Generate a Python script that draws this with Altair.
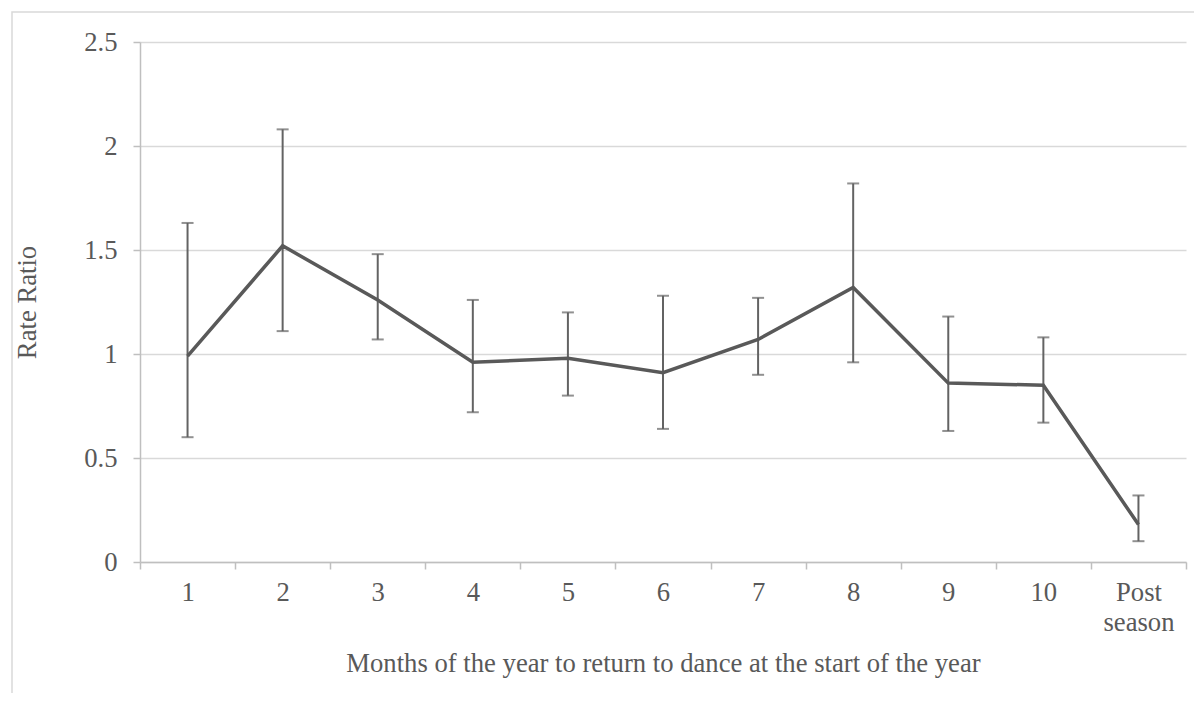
import altair as alt
import pandas as pd

categories = ["1", "2", "3", "4", "5", "6", "7", "8", "9", "10", "Post season"]
rate_ratio = [0.99, 1.52, 1.26, 0.96, 0.98, 0.91, 1.07, 1.32, 0.86, 0.85, 0.18]
ci_low = [0.60, 1.11, 1.07, 0.72, 0.80, 0.64, 0.90, 0.96, 0.63, 0.67, 0.10]
ci_high = [1.63, 2.08, 1.48, 1.26, 1.20, 1.28, 1.27, 1.82, 1.18, 1.08, 0.32]

df = pd.DataFrame({"month": categories, "rr": rate_ratio, "lo": ci_low, "hi": ci_high})

FONT = "Liberation Serif"
TXT = "#595959"

x_enc = alt.X(
    "month:N",
    sort=categories,
    scale=alt.Scale(paddingInner=0, paddingOuter=0),
    axis=alt.Axis(
        title="Months of the year to return to dance at the start of the year",
        labelAngle=0,
        labelExpr="datum.label == 'Post season' ? ['Post', 'season'] : datum.label",
        labelLineHeight=30,
        labelPadding=10,
        tickBand="extent",
        tickSize=7,
        tickColor="#bfbfbf",
        domainColor="#bfbfbf",
        domainWidth=1.5,
        tickWidth=1.5,
        grid=False,
        titlePadding=15,
    ),
)

y_scale = alt.Scale(domain=[0, 2.5], nice=False)
y_axis = alt.Axis(
    title="Rate Ratio",
    values=[0, 0.5, 1, 1.5, 2, 2.5],
    format=".1~f",
    tickSize=7,
    tickColor="#bfbfbf",
    domainColor="#bfbfbf",
    domainWidth=1.5,
    tickWidth=1.5,
    labelPadding=16,
    gridColor="#d9d9d9",
    gridWidth=1.5,
    titlePadding=42,
)

base = alt.Chart(df)

border = base.mark_rect(fill=None, stroke="#d9d9d9", strokeWidth=1.5).encode(
    x=alt.value(-128), x2=alt.value(1100), y=alt.value(-30), y2=alt.value(700)
).transform_filter("datum.month == '1'")

rules = base.mark_rule(color="#636363", strokeWidth=2).encode(
    x=x_enc,
    y=alt.Y("lo:Q", scale=y_scale, axis=y_axis),
    y2="hi:Q",
)
caps_hi = base.mark_tick(orient="horizontal", size=12, thickness=2, color="#636363").encode(
    x=alt.X("month:N", sort=categories), y="hi:Q"
)
caps_lo = base.mark_tick(orient="horizontal", size=12, thickness=2, color="#636363").encode(
    x=alt.X("month:N", sort=categories), y="lo:Q"
)
line = base.mark_line(color="#595959", strokeWidth=3.5).encode(
    x=alt.X("month:N", sort=categories), y="rr:Q"
)

chart = (
    alt.layer(border, rules, caps_hi, caps_lo, line)
    .properties(
        width=1046,
        height=520,
        autosize=alt.AutoSizeParams(type="none"),
        padding={"left": 132, "top": 34, "right": 8, "bottom": 131},
    )
    .configure_view(stroke=None)
    .configure_axis(
        labelFont=FONT,
        titleFont=FONT,
        labelFontSize=26.67,
        titleFontSize=26.67,
        labelColor=TXT,
        titleColor=TXT,
        titleFontWeight="normal",
    )
)

chart.save("out.html", embed_options={"renderer": "svg", "actions": False})
